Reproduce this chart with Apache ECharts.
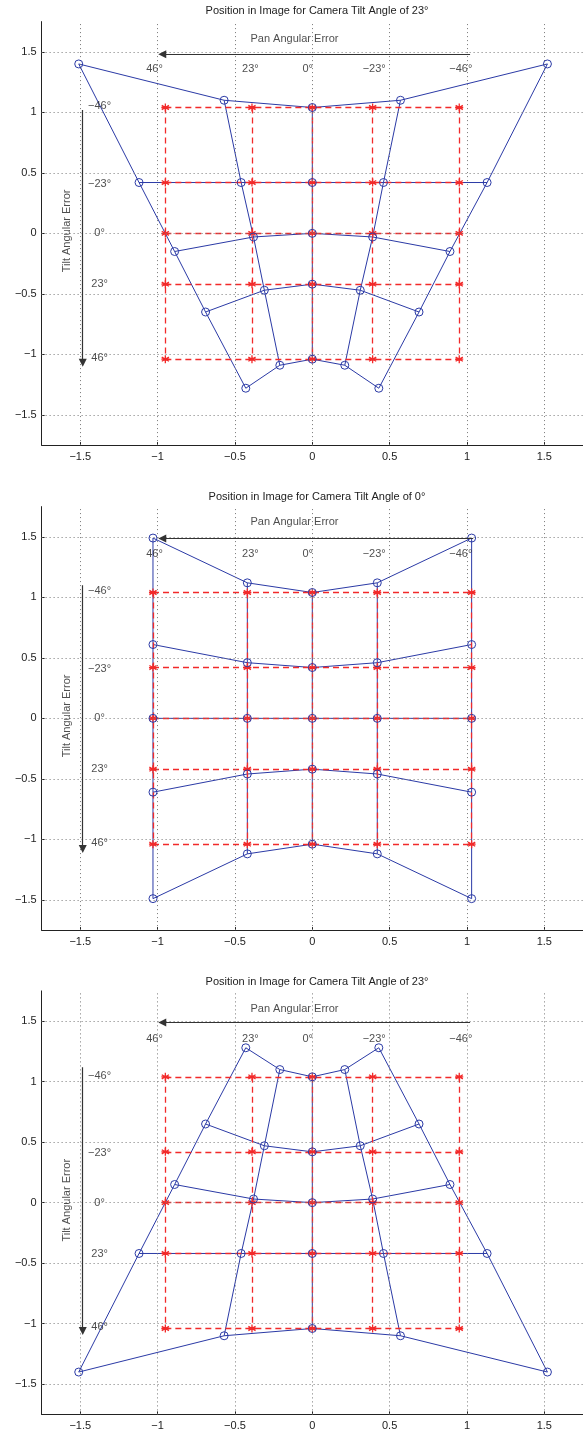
<!DOCTYPE html>
<html>
<head>
<meta charset="utf-8">
<title>Position in Image for Camera Tilt Angle</title>
<script src="https://cdn.jsdelivr.net/npm/echarts@6/dist/echarts.min.js"></script>
<style>
  html, body { margin: 0; padding: 0; background: #fff; }
  #main { width: 583px; height: 1432px; }
</style>
</head>
<body>
<div id="main"></div>
<script>
// ---- data ----
var titles = [
  'Position in Image for Camera Tilt Angle of 23°',
  'Position in Image for Camera Tilt Angle of 0°',
  'Position in Image for Camera Tilt Angle of 23°'
];
var tickValues = [-1.5, -1, -0.5, 0, 0.5, 1, 1.5];
var panLabels = ['46°', '23°', '0°', '−23°', '−46°'];
var tiltLabels = ['−46°', '−23°', '0°', '23°', '46°'];

// desired positions (red * grid)
var redX = [
  [-0.95, -0.39, 0, 0.39, 0.95],
  [-1.03, -0.42, 0, 0.42, 1.03],
  [-0.95, -0.39, 0, 0.39, 0.95]
];
var redY = [1.04, 0.42, 0, -0.42, -1.04];

// measured positions (blue o grid), rows = tilt -46..46, cols = pan 46..-46
var blueX1 = [
  [-1.51, -0.57, 0, 0.57, 1.52],
  [-1.12, -0.46, 0, 0.46, 1.13],
  [-0.89, -0.38, 0, 0.39, 0.89],
  [-0.69, -0.31, 0, 0.31, 0.69],
  [-0.43, -0.21, 0, 0.21, 0.43]
];
var blueY1 = [
  [1.40, 1.10, 1.04, 1.10, 1.40],
  [0.42, 0.42, 0.42, 0.42, 0.42],
  [-0.15, -0.03, 0, -0.03, -0.15],
  [-0.65, -0.47, -0.42, -0.47, -0.65],
  [-1.28, -1.09, -1.04, -1.09, -1.28]
];
var blueX2 = [
  [-1.03, -0.42, 0, 0.42, 1.03],
  [-1.03, -0.42, 0, 0.42, 1.03],
  [-1.03, -0.42, 0, 0.42, 1.03],
  [-1.03, -0.42, 0, 0.42, 1.03],
  [-1.03, -0.42, 0, 0.42, 1.03]
];
var blueY2 = [
  [1.49, 1.12, 1.04, 1.12, 1.49],
  [0.61, 0.46, 0.42, 0.46, 0.61],
  [0, 0, 0, 0, 0],
  [-0.61, -0.46, -0.42, -0.46, -0.61],
  [-1.49, -1.12, -1.04, -1.12, -1.49]
];
var blueX3 = [
  [-0.43, -0.21, 0, 0.21, 0.43],
  [-0.69, -0.31, 0, 0.31, 0.69],
  [-0.89, -0.38, 0, 0.39, 0.89],
  [-1.12, -0.46, 0, 0.46, 1.13],
  [-1.51, -0.57, 0, 0.57, 1.52]
];
var blueY3 = [
  [1.28, 1.10, 1.04, 1.10, 1.28],
  [0.65, 0.47, 0.42, 0.47, 0.65],
  [0.15, 0.03, 0, 0.03, 0.15],
  [-0.42, -0.42, -0.42, -0.42, -0.42],
  [-1.40, -1.10, -1.04, -1.10, -1.40]
];
var blueX = [blueX1, blueX2, blueX3];
var blueY = [blueY1, blueY2, blueY3];

// annotation anchors (data units)
var panLabelX = [-1.02, -0.40, -0.03, 0.40, 0.96];
var panLabelY = 1.355;
var tiltLabelX = -1.375;
var tiltLabelY = [1.05, 0.41, 0, -0.42, -1.03];
var panArrow = [[1.02, -0.97, 1.48], [1.04, -0.97, 1.487], [1.02, -0.97, 1.488]]; // from x, to x, y
var panTitleY = [1.606, 1.62, 1.6];
var tiltArrow = [[1.02, -1.07], [1.10, -1.08], [1.12, -1.06]]; // from y, to y
var tiltArrowX = -1.484;

// ---- chart ----
var blue = '#2b3aa6';
var red = '#f22a2a';
var font = 'Liberation Sans, Arial, sans-serif';
var gridTops = [21.6, 506.6, 990.9];
var titleCenters = [7.3, 493.3, 977.7];
var asterisk = 'path://M0,-5L0,5M-4.5,-2.6L4.5,2.6M-4.5,2.6L4.5,-2.6M-5,0L5,0';

function fmt(v) { return String(v).replace('-', '−'); }

var grids = [], xAxes = [], yAxes = [], series = [], titleList = [];

for (var k = 0; k < 3; k++) {
  grids.push({ left: 41.6, width: 541.6, top: gridTops[k], height: 423.5 });
  titleList.push({
    text: titles[k], left: 312, top: titleCenters[k] - 6.5, textAlign: 'center',
    textStyle: { fontSize: 11, fontWeight: 'normal', color: '#222', fontFamily: font }
  });
  var axisCommon = {
    type: 'value', min: -1.75, max: 1.75, gridIndex: k,
    axisLine: { show: true, onZero: false, lineStyle: { color: '#222', width: 1 } },
    axisTick: { show: true, inside: true, length: 3, customValues: tickValues, lineStyle: { color: '#222' } },
    axisLabel: { customValues: tickValues, formatter: fmt, color: '#222', fontSize: 11, fontFamily: font },
    splitLine: { show: false }
  };
  xAxes.push(Object.assign({}, axisCommon, { position: 'bottom', axisLabel: Object.assign({}, axisCommon.axisLabel, { margin: 6 }) }));
  yAxes.push(Object.assign({}, axisCommon, { position: 'left', axisLabel: Object.assign({}, axisCommon.axisLabel, { margin: 5 }) }));

  // dotted grid
  var gl = [];
  tickValues.forEach(function (v) { gl.push({ xAxis: v }); gl.push({ yAxis: v }); });
  series.push({
    type: 'line', xAxisIndex: k, yAxisIndex: k, data: [], silent: true, z: 1,
    markLine: { silent: true, symbol: ['none', 'none'], label: { show: false },
      lineStyle: { color: '#777', type: [1, 3], width: 1 }, data: gl }
  });

  // blue polylines: rows and columns
  var bx = blueX[k], by = blueY[k];
  var bl = [];
  for (var r = 0; r < 5; r++) {
    var row = [], col = [];
    for (var c = 0; c < 5; c++) {
      row.push([bx[r][c], by[r][c]]);
      col.push([bx[c][r], by[c][r]]);
    }
    bl.push({ coords: row });
    bl.push({ coords: col });
  }
  series.push({
    type: 'lines', coordinateSystem: 'cartesian2d', xAxisIndex: k, yAxisIndex: k,
    polyline: true, silent: true, z: 2, data: bl,
    lineStyle: { color: blue, width: 1, opacity: 1 }
  });

  // red dashed desired grid
  var rx = redX[k];
  var rl = [];
  for (var i = 0; i < 5; i++) {
    rl.push({ coords: [[rx[0], redY[i]], [rx[4], redY[i]]] });
    rl.push({ coords: [[rx[i], redY[0]], [rx[i], redY[4]]] });
  }
  series.push({
    type: 'lines', coordinateSystem: 'cartesian2d', xAxisIndex: k, yAxisIndex: k,
    silent: true, z: 3, data: rl,
    lineStyle: { color: red, width: 1.3, type: [6, 4], opacity: 1 }
  });

  // red asterisks
  var rp = [];
  for (var a = 0; a < 5; a++) for (var b = 0; b < 5; b++) rp.push([rx[b], redY[a]]);
  series.push({
    type: 'scatter', xAxisIndex: k, yAxisIndex: k, silent: true, z: 4, data: rp,
    symbol: asterisk, symbolSize: 8,
    itemStyle: { color: 'rgba(0,0,0,0)', borderColor: red, borderWidth: 1.3, opacity: 1 }
  });

  // blue circles
  var bp = [];
  for (var a2 = 0; a2 < 5; a2++) for (var b2 = 0; b2 < 5; b2++) bp.push([bx[a2][b2], by[a2][b2]]);
  series.push({
    type: 'scatter', xAxisIndex: k, yAxisIndex: k, silent: true, z: 5, data: bp,
    symbol: 'circle', symbolSize: 8,
    itemStyle: { color: 'rgba(0,0,0,0)', borderColor: blue, borderWidth: 1, opacity: 1 }
  });

  // arrows
  series.push({
    type: 'lines', coordinateSystem: 'cartesian2d', xAxisIndex: k, yAxisIndex: k,
    silent: true, z: 6, symbol: ['none', 'triangle'], symbolSize: 8,
    lineStyle: { color: '#333', width: 1.2, opacity: 1 },
    data: [
      { coords: [[panArrow[k][0], panArrow[k][2]], [panArrow[k][1], panArrow[k][2]]] },
      { coords: [[tiltArrowX, tiltArrow[k][0]], [tiltArrowX, tiltArrow[k][1]]] }
    ]
  });

  // text annotations
  var txt = [];
  txt.push({ value: [-0.115, panTitleY[k]], label: { formatter: 'Pan Angular Error' } });
  txt.push({ value: [-1.587, 0.02], label: { formatter: 'Tilt Angular Error', rotate: 90 } });
  for (var p = 0; p < 5; p++) {
    txt.push({ value: [panLabelX[p], panLabelY], label: { formatter: panLabels[p] } });
    txt.push({ value: [tiltLabelX, tiltLabelY[p]], label: { formatter: tiltLabels[p] } });
  }
  series.push({
    type: 'scatter', xAxisIndex: k, yAxisIndex: k, silent: true, z: 7, data: txt,
    symbolSize: 1, itemStyle: { color: 'rgba(0,0,0,0)' },
    label: { show: true, position: 'inside', color: '#222', fontSize: 11, fontFamily: font }
  });
}

var chart = echarts.init(document.getElementById('main'), null, { renderer: 'canvas' });
chart.setOption({
  animation: false,
  backgroundColor: '#fff',
  title: titleList,
  grid: grids,
  xAxis: xAxes,
  yAxis: yAxes,
  series: series
});
</script>
</body>
</html>
